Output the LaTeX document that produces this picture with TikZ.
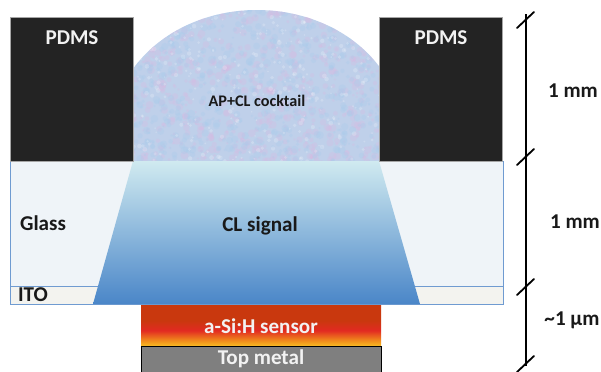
\documentclass[tikz,border=0pt]{standalone}
\usepackage{fontspec}
\setmainfont{Carlito}
\definecolor{pdms}{HTML}{232323}
\definecolor{domebase}{HTML}{BFD0EA}
\definecolor{domepink}{HTML}{D9B9E2}
\definecolor{domeblue}{HTML}{A8CCEC}
\definecolor{glassfill}{HTML}{EFF4F8}
\definecolor{itofill}{HTML}{F3F3EF}
\definecolor{glassline}{HTML}{6F9BD1}
\definecolor{cltop}{HTML}{D0EAF0}
\definecolor{clmid}{HTML}{82C3DF}
\definecolor{clbot}{HTML}{4A86C8}
\definecolor{sentop}{HTML}{C9380E}
\definecolor{senred}{HTML}{E22A22}
\definecolor{senorg}{HTML}{F08A1C}
\definecolor{senyel}{HTML}{F8BC22}
\definecolor{metal}{HTML}{7F7F7F}
% sensor layer: dark orange on top, red band, orange-yellow at the bottom
\pgfdeclareverticalshading{sensorshade}{100bp}{color(0bp)=(senyel); color(25bp)=(senyel);
  color(32bp)=(senorg); color(44bp)=(senred); color(56bp)=(sentop); color(75bp)=(sentop); color(100bp)=(sentop)}
\begin{document}
\begin{tikzpicture}[x=0.025cm, y=-0.025cm,
    lbl/.style={font=\bfseries\fontsize{15}{18}\selectfont, text=black!90, inner sep=0pt},
    small lbl/.style={font=\bfseries\fontsize{11.5}{14}\selectfont, text=black!90, inner sep=0pt},
    white lbl/.style={lbl, text=white!95!black},
    tick/.style={line width=1.3pt, line cap=round}]
    \useasboundingbox (0,0) rectangle (601,371);

    % Droplet of cocktail (mottled fill)
    \begin{scope}
        \clip (0,0) rectangle (601,161);
        \clip (257,130) ellipse [x radius=144, y radius=120];
        \fill[domebase] (100,0) rectangle (420,161);
        \pgfmathsetseed{17}
        \foreach \i in {1,...,700} {
            \pgfmathsetmacro{\px}{113+rnd*288}
            \pgfmathsetmacro{\py}{8+rnd*155}
            \pgfmathsetmacro{\pr}{1+rnd*3}
            \fill[domepink, opacity=0.3] (\px,\py) circle [radius=\pr];
        }
        \foreach \i in {1,...,700} {
            \pgfmathsetmacro{\px}{113+rnd*288}
            \pgfmathsetmacro{\py}{8+rnd*155}
            \pgfmathsetmacro{\pr}{1+rnd*3}
            \fill[domeblue, opacity=0.3] (\px,\py) circle [radius=\pr];
        }
        \foreach \i in {1,...,400} {
            \pgfmathsetmacro{\px}{113+rnd*288}
            \pgfmathsetmacro{\py}{8+rnd*155}
            \pgfmathsetmacro{\pr}{0.8+rnd*1.6}
            \fill[white, opacity=0.2] (\px,\py) circle [radius=\pr];
        }
    \end{scope}

    % Glass slide and ITO layer
    \draw[glassline, fill=glassfill, line width=0.6pt] (10,161) rectangle (503,286);
    \draw[glassline, fill=itofill, line width=0.6pt] (10,286) rectangle (503,304);

    % Light cone through the glass
    \shade[top color=cltop, middle color=clmid, bottom color=clbot]
        (133,161) -- (379,161) -- (420,304) -- (93,304) -- cycle;

    % PDMS walls
    \draw[gray!70, fill=pdms, line width=0.5pt] (10,17) rectangle (133,161);
    \draw[gray!70, fill=pdms, line width=0.5pt] (379,17) rectangle (502,161);

    % Sensor stack
    \shade[shading=sensorshade] (141,305) rectangle (381,346);
    \draw[black, fill=metal, line width=0.7pt] (141,346) rectangle (381,376);

    % Scale bar
    \coordinate (bartop) at (526,14);
    \coordinate (barbot) at (526,366);
    \draw[line width=1.3pt] (bartop) -- (barbot);
    \foreach \yy in {20,157,287,364} {
        \draw[tick] (517,\yy+8) -- (534,\yy-8);
    }

    % Labels
    \node[white lbl] (pdmsl) at (72,38) {PDMS};
    \node[white lbl] (pdmsr) at (441,38) {PDMS};
    \node[small lbl] (cocktail) at (257,101) {AP+CL cocktail};
    \node[lbl] (glass) at (43,223) {Glass};
    \node[lbl] (signal) at (260,226) {CL signal};
    \node[lbl] (ito) at (33,295) {ITO};
    \node[white lbl] (sensor) at (261,326) {a-Si:H sensor};
    \node[white lbl] (topmetal) at (261,359) {Top metal};
    \node[lbl] (scaleA) at (573,91) {1 mm};
    \node[lbl] (scaleB) at (575,222) {1 mm};
    \node[lbl] (scaleC) at (572,320) {\textasciitilde1 µm};
\end{tikzpicture}
\end{document}
